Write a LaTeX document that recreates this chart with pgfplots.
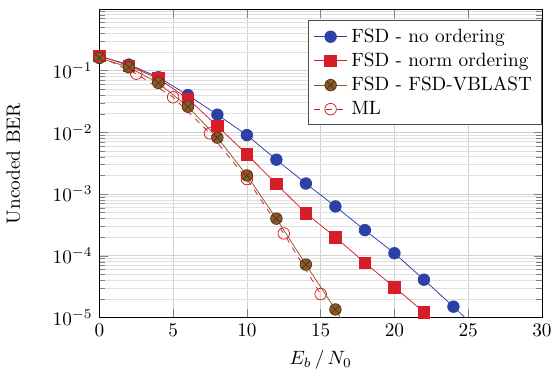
\documentclass[border=0pt]{standalone}
\usepackage{pgfplots}
\pgfplotsset{compat=1.18}
\definecolor{cblue}{RGB}{45,65,165}
\definecolor{cred}{RGB}{215,30,40}
\definecolor{cbrown}{RGB}{140,90,40}
\begin{document}
\begin{tikzpicture}
\begin{semilogyaxis}[
  scale only axis,
  width=230pt, height=160pt,
  xmin=0, xmax=30, ymin=1e-5, ymax=0.97,
  xtick={0,5,...,30},
  ytick={1e-5,1e-4,1e-3,1e-2,1e-1},
  minor ytick={2e-5,3e-5,4e-5,5e-5,6e-5,7e-5,8e-5,9e-5,2e-4,3e-4,4e-4,5e-4,6e-4,7e-4,8e-4,9e-4,2e-3,3e-3,4e-3,5e-3,6e-3,7e-3,8e-3,9e-3,2e-2,3e-2,4e-2,5e-2,6e-2,7e-2,8e-2,9e-2,0.2,0.3,0.4,0.5,0.6,0.7,0.8,0.9},
  grid=both,
  major grid style={gray!35},
  minor grid style={gray!25},
  xlabel={$E_b\,/\,N_0$},
  ylabel={Uncoded BER},
  ylabel style={yshift=10pt},
  legend style={at={(1,0.965)}, anchor=north east, draw=black!70, font=\normalsize, cells={anchor=west}},
]
\addplot[cblue, mark=*, mark size=3pt, mark options={fill=cblue}] coordinates {
(0,0.17)(2,0.125)(4,0.078)(6,0.040)(8,0.0193)(10,0.0090)(12,0.0036)(14,0.00148)(16,6.3e-4)(18,2.6e-4)(20,1.1e-4)(22,4.1e-5)(24,1.5e-5)(26,5.3e-6)};
\addlegendentry{FSD - no ordering}
\addplot[cred, mark=square*, mark size=3pt, mark options={fill=cred}] coordinates {
(0,0.174)(2,0.12)(4,0.074)(6,0.035)(8,0.0126)(10,4.4e-3)(12,1.45e-3)(14,4.9e-4)(16,2.0e-4)(18,7.7e-5)(20,3.1e-5)(22,1.22e-5)(24,4.8e-6)};
\addlegendentry{FSD - norm ordering}
\addplot[cbrown, mark=otimes*, mark size=3pt, mark options={fill=cbrown, draw=cbrown!60!black}] coordinates {
(0,0.16)(2,0.113)(4,0.063)(6,0.026)(8,0.0082)(10,2.0e-3)(12,4.0e-4)(14,7.2e-5)(16,1.35e-5)(18,2.2e-6)};
\addlegendentry{FSD - FSD-VBLAST}
\addplot[cred, dashed, mark=o, mark size=3pt, mark options={solid, fill=white}] coordinates {
(0,0.17)(2.5,0.089)(5,0.037)(7.5,9.6e-3)(10,1.75e-3)(12.5,2.3e-4)(15,2.4e-5)};
\addlegendentry{ML}
\end{semilogyaxis}
\path ([yshift=5pt]current axis.north);
\end{tikzpicture}
\end{document}
